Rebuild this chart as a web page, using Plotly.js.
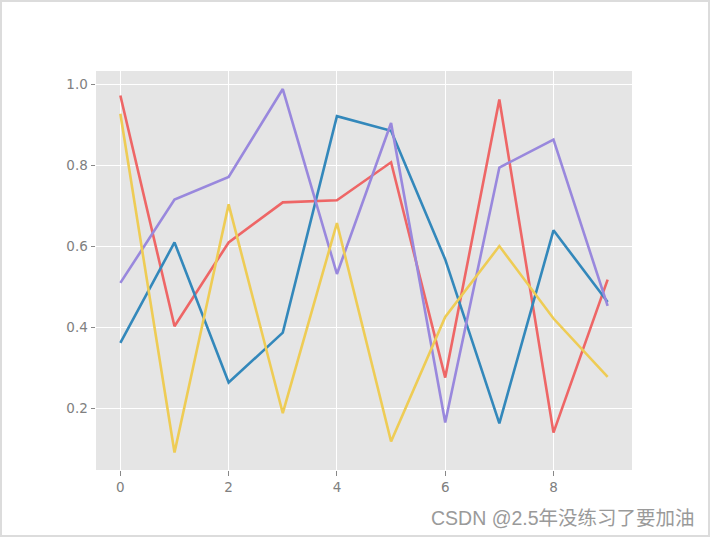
<!DOCTYPE html>
<html>
<head>
<meta charset="utf-8">
<script src="https://cdn.plot.ly/plotly-3.0.1.min.js"></script>
<style>
  html, body { margin: 0; padding: 0; background: #fff; }
  #wrap { width: 706px; height: 533px; border: 2px solid #dcdcdc; }
  #chart { width: 706px; height: 533px; }
</style>
</head>
<body>
<div id="wrap"><div id="chart"></div></div>
<script>
const xs = [0, 1, 2, 3, 4, 5, 6, 7, 8, 9];
const redVals    = [0.973, 0.403, 0.610, 0.709, 0.714, 0.808, 0.276, 0.963, 0.140, 0.518];
const blueVals   = [0.362, 0.610, 0.264, 0.387, 0.922, 0.886, 0.568, 0.163, 0.640, 0.463];
const purpleVals = [0.510, 0.716, 0.772, 0.989, 0.532, 0.905, 0.165, 0.795, 0.864, 0.453];
const yellowVals = [0.928, 0.091, 0.704, 0.188, 0.658, 0.118, 0.426, 0.601, 0.422, 0.278];
const seriesVals = [redVals, blueVals, purpleVals, yellowVals];
const seriesColors = ['#EE6666', '#3388BB', '#9988DD', '#EECC55'];
const xTicks = [0, 2, 4, 6, 8];
const yTicks = [0.2, 0.4, 0.6, 0.8, 1.0];
const yTickText = ['0.2', '0.4', '0.6', '0.8', '1.0'];
const watermark = 'CSDN @2.5年没练习了要加油';

const traces = seriesVals.map((v, i) => ({
  x: xs, y: v, type: 'scatter', mode: 'lines',
  line: { color: seriesColors[i], width: 2.6 },
  showlegend: false, hoverinfo: 'skip'
}));

const axisCommon = {
  showgrid: true, gridcolor: '#ffffff', gridwidth: 1,
  zeroline: false, showline: false,
  ticks: 'outside', ticklen: 4.5, tickwidth: 1, tickcolor: '#888888',
  tickfont: { family: 'DejaVu Sans', size: 13.5, color: '#808080' }
};

const layout = {
  width: 706, height: 533,
  margin: { l: 94, r: 76, t: 69, b: 65 },
  paper_bgcolor: '#ffffff', plot_bgcolor: '#E5E5E5',
  xaxis: Object.assign({}, axisCommon, {
    range: [-0.45, 9.45], tickvals: xTicks, ticktext: xTicks.map(String)
  }),
  yaxis: Object.assign({}, axisCommon, {
    range: [0.0477, 1.0336], tickvals: yTicks, ticktext: yTickText
  }),
  annotations: [{
    text: watermark, xref: 'paper', yref: 'paper',
    x: 1.122, y: -0.120, xanchor: 'right', yanchor: 'middle',
    showarrow: false,
    font: { family: 'Liberation Sans, Noto Sans CJK SC', size: 19.5, color: '#9a9a9a' }
  }]
};

Plotly.newPlot('chart', traces, layout, { displayModeBar: false, staticPlot: true });
</script>
</body>
</html>
